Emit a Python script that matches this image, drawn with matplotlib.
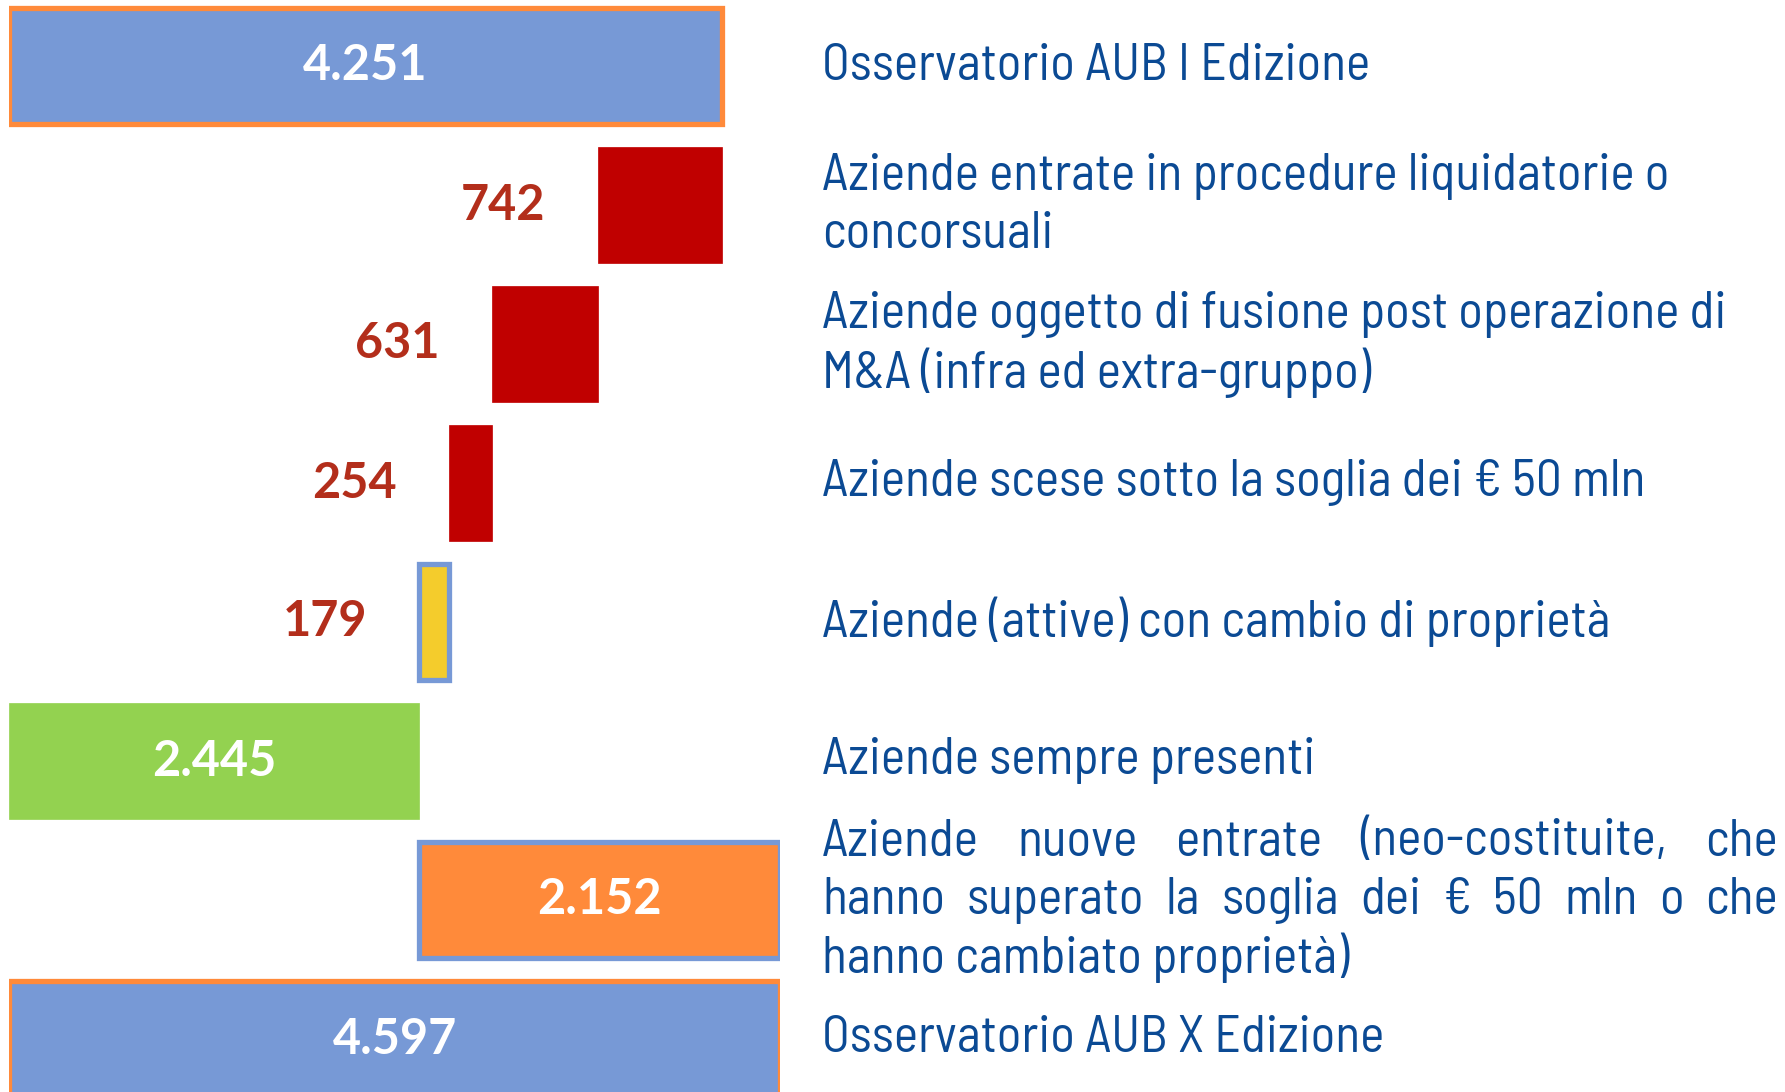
import matplotlib
matplotlib.use("Agg")
import matplotlib.pyplot as plt
from matplotlib.transforms import blended_transform_factory

# waterfall AUB: I Edizione -> X Edizione
values = [4251, 742, 631, 254, 179, 2445, 2152, 4597]
kinds = ['total', 'exit', 'exit', 'exit', 'changed', 'kept', 'new', 'total']
value_text = ['4.251', '742', '631', '254', '179', '2.445', '2.152', '4.597']
labels = [
    ["Osservatorio AUB I Edizione"],
    ["Aziende entrate in procedure liquidatorie o", "concorsuali"],
    ["Aziende oggetto di fusione post operazione di", "M&A (infra ed extra-gruppo)"],
    ["Aziende scese sotto la soglia dei € 50 mln"],
    ["Aziende (attive) con cambio di proprietà"],
    ["Aziende sempre presenti"],
    ["Aziende nuove entrate (neo-costituite, che",
     "hanno superato la soglia dei € 50 mln o che",
     "hanno cambiato proprietà)"],
    ["Osservatorio AUB X Edizione"],
]
justified = {6: [0, 1]}

BLUE = '#7799D6'
ORANGE = '#FF8A3A'
RED = '#C00000'
YELLOW = '#F4CC2C'
GREEN = '#93D250'
TXT = '#0B4A94'
NUMRED = '#B32E1B'

style = {
    'total': dict(fc=BLUE, ec=ORANGE, lw=3.8, num='white'),
    'exit': dict(fc=RED, ec=RED, lw=0.5, num=NUMRED),
    'changed': dict(fc=YELLOW, ec=BLUE, lw=3.8, num=NUMRED),
    'kept': dict(fc=GREEN, ec=GREEN, lw=0.5, num='white'),
    'new': dict(fc=ORANGE, ec=BLUE, lw=3.8, num='white'),
}

W, H = 1785, 1092
fig = plt.figure(figsize=(W / 100, H / 100), dpi=100)
ax = fig.add_axes([9 / W, 0, 771 / W, 1])
ax.set_xlim(0, max(values))
row_px, first_px = 139.0, 66.0
ax.set_ylim((H - first_px) / row_px, -first_px / row_px)
ax.axis('off')

# bar starts from the waterfall logic
starts = []
running = 0
kept = 0
for v, k in zip(values, kinds):
    if k == 'total':
        starts.append(0)
        running = v
    elif k in ('exit', 'changed'):
        running -= v
        starts.append(running)
    elif k == 'kept':
        starts.append(0)
        kept = v
    else:
        starts.append(kept)

numfam = ['Lato', 'DejaVu Sans']
for i, (v, k, s) in enumerate(zip(values, kinds, starts)):
    st = style[k]
    ax.barh(i, v, left=s, height=0.84, color=st['fc'], edgecolor=st['ec'],
            linewidth=st['lw'], zorder=2)
    if st['num'] == 'white':
        ax.text(s + v / 2, i, value_text[i], color='white', fontsize=35,
                fontweight='bold', family=numfam,
                ha='center', va='center', zorder=3)
    else:
        ax.annotate(value_text[i], xy=(s, i), xytext=(-52, 0),
                    textcoords='offset pixels', color=st['num'], fontsize=35,
                    fontweight='bold', family=numfam,
                    ha='right', va='center')

# category labels on the right
tr = blended_transform_factory(fig.transFigure, ax.transData)
x0, x1 = 822 / W, 1778 / W
gap = 58 / row_px
fam = ['Barlow Semi Condensed', 'Barlow Condensed', 'Archivo Narrow', 'DejaVu Sans']
fs = 37
renderer = fig.canvas.get_renderer()
for i, lines in enumerate(labels):
    n = len(lines)
    for j, line in enumerate(lines):
        y = i + (j - (n - 1) / 2) * gap
        if j in justified.get(i, []):
            words = line.split(' ')
            objs = [fig.text(0, 0, w, fontsize=fs, family=fam, color=TXT,
                             fontstretch='condensed', transform=tr, va='center')
                    for w in words]
            widths = [o.get_window_extent(renderer).width / W for o in objs]
            space = (x1 - x0 - sum(widths)) / (len(words) - 1)
            x = x0
            for o, w in zip(objs, widths):
                o.set_position((x, y))
                x += w + space
        else:
            fig.text(x0, y, line, fontsize=fs, family=fam, color=TXT,
                     fontstretch='condensed', transform=tr, va='center')

fig.savefig('out.png', dpi=100, facecolor='white')
